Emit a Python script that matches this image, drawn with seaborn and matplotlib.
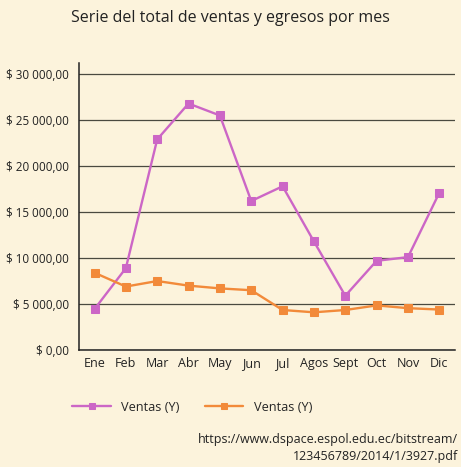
import numpy as np
import pandas as pd
import seaborn as sns
import matplotlib.pyplot as plt
from matplotlib.ticker import FuncFormatter, FixedLocator

meses = ['Ene', 'Feb', 'Mar', 'Abr', 'May', 'Jun', 'Jul', 'Agos', 'Sept', 'Oct', 'Nov', 'Dic']
ventas = [4450, 8900, 22900, 26800, 25500, 16200, 17800, 11800, 5900, 9700, 10100, 17100]
egresos = [8400, 6900, 7500, 7000, 6700, 6500, 4350, 4100, 4350, 4850, 4550, 4400]
etiquetas = ['Ventas (Y)', 'Ventas (Y)']

BG = '#fcf3dc'
ROSA = '#cc66c6'
NARANJA = '#f28a3a'

sns.set_style('white')
plt.rcParams['font.family'] = ['Open Sans', 'DejaVu Sans']

df = pd.DataFrame({'mes': meses, 'x': range(len(meses)), 'ventas': ventas, 'egresos': egresos})

fig = plt.figure(figsize=(4.61, 4.67), dpi=100, facecolor=BG)
ax = fig.add_axes([0.171, 0.2505, 0.816, 0.6145])
ax.set_facecolor(BG)

sns.lineplot(data=df, x='x', y='ventas', ax=ax, color=ROSA, marker='s', markersize=5.5,
             markeredgecolor=ROSA, linewidth=1.7, label=etiquetas[0])
sns.lineplot(data=df, x='x', y='egresos', ax=ax, color=NARANJA, marker='s', markersize=5.5,
             markeredgecolor=NARANJA, linewidth=1.7, label=etiquetas[1])

ax.set_xlim(-0.5, len(meses) - 0.5)
ax.set_ylim(0, 31200)
ax.set_yticks(np.arange(0, 30001, 5000))
ax.yaxis.set_major_formatter(FuncFormatter(lambda v, p: '$ ' + f'{v:,.2f}'.replace(',', ' ').replace('.', ',')))
ax.grid(axis='y', color='#4a4a40', linewidth=0.9)
ax.set_axisbelow(True)

ax.set_xticks(range(len(meses)))
ax.set_xticklabels(meses)
ax.xaxis.set_minor_locator(FixedLocator(np.arange(0.5, len(meses), 1)))
ax.tick_params(axis='x', which='major', length=0, labelsize=9, pad=5, colors='#222222')
ax.tick_params(axis='x', which='minor', length=6, width=1, color='#222222', direction='out')
ax.tick_params(axis='y', length=5, width=1, color='#222222', labelsize=8.4, colors='#222222', pad=2)
ax.set_xlabel('')
ax.set_ylabel('')

for s in ['top', 'right']:
    ax.spines[s].set_visible(False)
for s in ['left', 'bottom']:
    ax.spines[s].set_color('#222222')
    ax.spines[s].set_linewidth(1.1)

ax.legend(loc='center', bbox_to_anchor=(0.417, 0.128), bbox_transform=fig.transFigure,
          ncol=2, frameon=False, fontsize=9.2, handlelength=3, columnspacing=2.0,
          markerscale=0.8)

fig.text(0.5, 0.962, 'Serie del total de ventas y egresos por mes', ha='center', va='center',
         fontsize=11.5, color='#222222')
fig.text(0.993, 0.041, 'https://www.dspace.espol.edu.ec/bitstream/\n123456789/2014/1/3927.pdf',
         ha='right', va='center', fontsize=9, color='#222222', linespacing=1.45)

fig.savefig('out.png', dpi=100, facecolor=BG)
